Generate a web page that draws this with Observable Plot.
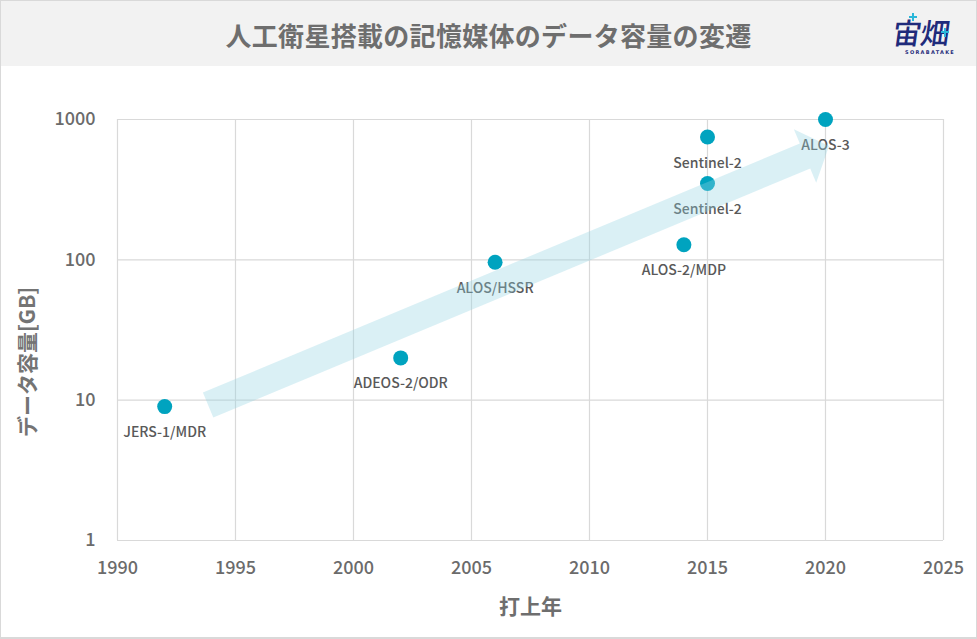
<!DOCTYPE html>
<html>
<head>
<meta charset="utf-8">
<script src="https://cdn.jsdelivr.net/npm/d3@7"></script>
<script src="https://cdn.jsdelivr.net/npm/@observablehq/plot@0.6"></script>
<style>
  html, body { margin: 0; padding: 0; background: #fff; }
  #wrap { position: relative; width: 977px; height: 639px; overflow: hidden; background: #fff;
          font-family: "Noto Sans CJK JP", "Noto Sans", sans-serif; }
  #titlebar { position: absolute; left: 0; top: 0; width: 977px; height: 66px; background: #f2f2f2; }
  #title { position: absolute; left: 0; top: 0; width: 977px; height: 66px; line-height: 70px; text-align: center;
           font-size: 26px; font-weight: 700; color: #6e6e6e; letter-spacing: 0.3px; }
  #logo { position: absolute; left: 892px; top: 16px; width: 72px; height: 44px; }
  #logo .kanji { position: absolute; left: 1px; top: 0px; font-size: 29px; line-height: 30px; height: 30px; color: #1f2b7b;
                 font-weight: 500; letter-spacing: -1px; transform: skewX(-8deg); }
  #logo .pv, #logo .ph { position: absolute; background: #2ab7d9; }
  #logo .sub { position: absolute; left: 13px; top: 33px; font-size: 5px; line-height: 6px; letter-spacing: 1.3px; color: #1f2b7b;
               font-family: "DejaVu Sans", sans-serif; font-weight: 700; }
  #chart { position: absolute; left: 0; top: 66px; }
  #border { position: absolute; left: 0; top: 0; width: 977px; height: 639px; box-sizing: border-box;
            border: 1px solid #d9d9d9; border-bottom-width: 2px; pointer-events: none; }
</style>
</head>
<body>
<div id="wrap">
  <div id="titlebar"></div>
  <div id="title">人工衛星搭載の記憶媒体のデータ容量の変遷</div>
  <div id="logo">
    <span class="kanji">宙畑</span>
    <div class="pv" style="left:20px; top:-3px; width:2px; height:8px;"></div>
    <div class="ph" style="left:17px; top:0px; width:8px; height:2px;"></div>
    <div class="pv" style="left:52px; top:12px; width:2px; height:9px;"></div>
    <div class="ph" style="left:49px; top:15px; width:8px; height:2px;"></div>
    <span class="sub">SORABATAKE</span>
  </div>
  <div id="chart"></div>
  <div id="border"></div>
</div>
<script>
// ---- data ----
const years = [1992, 2002, 2006, 2014, 2015, 2015, 2020];
const capacities = [9, 20, 96, 128, 750, 350, 1000];
const names = ["JERS-1/MDR", "ADEOS-2/ODR", "ALOS/HSSR", "ALOS-2/MDP", "Sentinel-2", "Sentinel-2", "ALOS-3"];
const xTicks = [1990, 1995, 2000, 2005, 2010, 2015, 2020, 2025];
const yTicks = [1, 10, 100, 1000];
const arrowYears = [1993.86, 2020.17];
const arrowValues = [9.15, 642];
const xLabel = "打上年";
const yLabel = "データ容量[GB]";

const points = years.map((y, i) => ({year: y, value: capacities[i], name: names[i]}));

const fontFam = "'Noto Sans CJK JP', 'Noto Sans', sans-serif";

function trendArrow(index, scales) {
  const {x, y} = scales;
  const x0 = x(arrowYears[0]), y0 = y(arrowValues[0]);
  const x1 = x(arrowYears[1]), y1 = y(arrowValues[1]);
  const dx = x1 - x0, dy = y1 - y0, L = Math.hypot(dx, dy);
  const ux = dx / L, uy = dy / L, nx = -uy, ny = ux;
  const hw = 13.5, hh = 29, hl = 26;
  const bx = x1 - ux * hl, by = y1 - uy * hl;
  const pts = [
    [x0 + nx * hw, y0 + ny * hw],
    [bx + nx * hw, by + ny * hw],
    [bx + nx * hh, by + ny * hh],
    [x1, y1],
    [bx - nx * hh, by - ny * hh],
    [bx - nx * hw, by - ny * hw],
    [x0 - nx * hw, y0 - ny * hw]
  ];
  const g = d3.create("svg:g");
  g.append("polygon")
    .attr("points", pts.map(p => p.join(",")).join(" "))
    .attr("fill", "#92d3e2")
    .attr("fill-opacity", 0.34);
  return g.node();
}

const chart = Plot.plot({
  width: 977,
  height: 573,
  marginLeft: 117,
  marginRight: 34,
  marginTop: 53,
  marginBottom: 99,
  style: {fontFamily: fontFam, fontSize: "18px", color: "#6b6b6b", background: "transparent", overflow: "visible"},
  x: {domain: [1990, 2025]},
  y: {type: "log", domain: [1, 1000]},
  marks: [
    Plot.gridX(xTicks, {stroke: "#d9d9d9", strokeOpacity: 1, strokeWidth: 1.2}),
    Plot.gridY(yTicks, {stroke: "#d9d9d9", strokeOpacity: 1, strokeWidth: 1.2}),
    Plot.axisX(xTicks, {tickSize: 0, tickPadding: 21, tickFormat: d => String(d), label: null, fontWeight: 500}),
    Plot.axisY(yTicks, {tickSize: 0, tickPadding: 22, tickFormat: d => String(d), label: null, fontWeight: 500}),
    Plot.dot(points, {x: "year", y: "value", r: 7.5, fill: "#00a3bf", stroke: "none"}),
    Plot.text(points, {x: "year", y: "value", text: "name", dy: 26, fontSize: 14, fill: "#595959", fontWeight: 500}),
    Plot.text([xLabel], {frameAnchor: "bottom", textAnchor: "middle", dy: 73, fontSize: 21, fontWeight: 700, fill: "#6e6e6e"}),
    Plot.text([yLabel], {frameAnchor: "left", textAnchor: "middle", dx: -89, dy: 32, rotate: -90, fontSize: 21, fontWeight: 700, fill: "#747474"}),
    trendArrow
  ]
});
document.getElementById("chart").appendChild(chart);
</script>
</body>
</html>
